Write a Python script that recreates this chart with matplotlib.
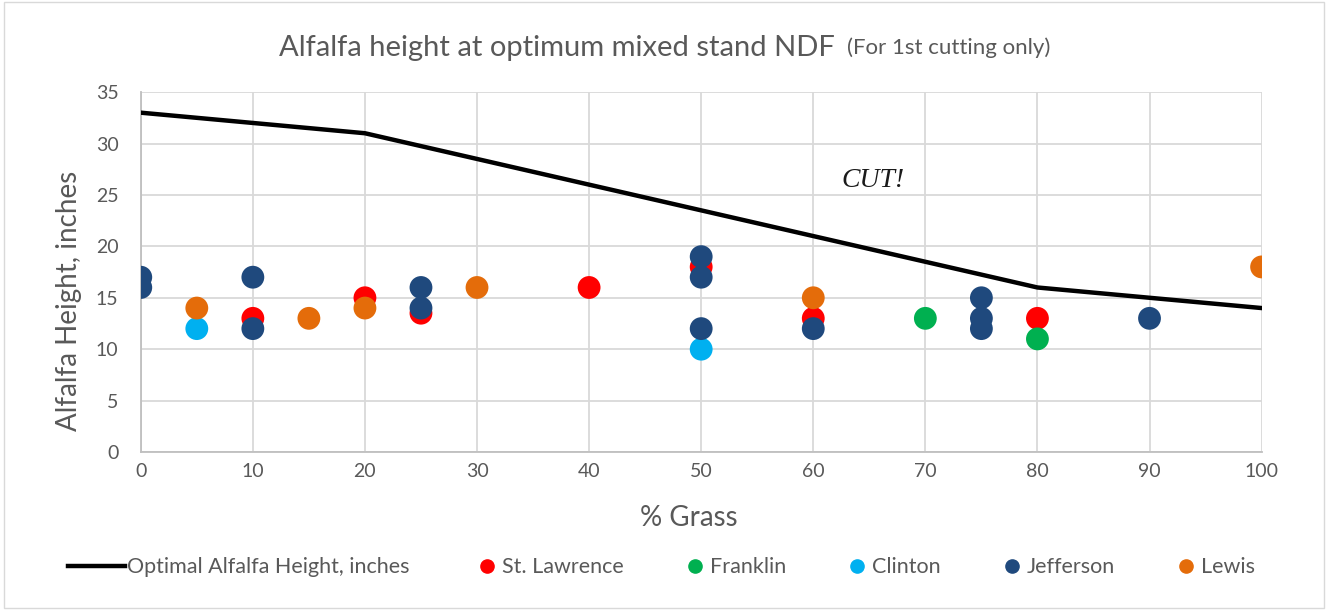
import matplotlib.pyplot as plt
from matplotlib.lines import Line2D
from matplotlib.patches import Rectangle

# optimal height line
line_x = [0, 10, 20, 30, 40, 50, 60, 70, 80, 90, 100]
line_y = [33, 32, 31, 28.5, 26, 23.5, 21, 18.5, 16, 15, 14]

# county points (% grass, height)
stlaw_x = [10, 20, 25, 40, 50, 60, 80]
stlaw_y = [13, 15, 13.5, 16, 18, 13, 13]
franklin_x = [70, 80]
franklin_y = [13, 11]
clinton_x = [5, 50]
clinton_y = [12, 10]
jeff_x = [0, 0, 10, 10, 25, 25, 50, 50, 50, 60, 75, 75, 75, 90]
jeff_y = [17, 16, 17, 12, 16, 14, 19, 17, 12, 12, 15, 13, 12, 13]
lewis_x = [5, 15, 20, 30, 60, 100]
lewis_y = [14, 13, 14, 16, 15, 18]

series = [
    ("St. Lawrence", stlaw_x, stlaw_y, "#ff0000"),
    ("Franklin", franklin_x, franklin_y, "#00b050"),
    ("Clinton", clinton_x, clinton_y, "#00b0f0"),
    ("Jefferson", jeff_x, jeff_y, "#1f497d"),
    ("Lewis", lewis_x, lewis_y, "#e46c0a"),
]

plt.rcParams['font.family'] = ['Lato', 'DejaVu Sans']
gray = "#595959"

fig = plt.figure(figsize=(13.28, 6.10), dpi=100)
ax = fig.add_axes([0.106, 0.259, 0.844, 0.590])

ax.plot(line_x, line_y, color="black", lw=3.2, zorder=3)
for i, (name, xs, ys, col) in enumerate(series):
    ax.scatter(xs, ys, s=270, color=col, edgecolors="none", zorder=4 + i)

ax.set_xlim(0, 100)
ax.set_ylim(0, 35)
ax.set_xticks(range(0, 101, 10))
ax.set_yticks(range(0, 36, 5))
ax.grid(True, color="#d9d9d9", lw=1.3)
ax.set_axisbelow(True)
for s in ["top", "right"]:
    ax.spines[s].set_visible(False)
for s in ["left", "bottom"]:
    ax.spines[s].set_color("#bfbfbf")
    ax.spines[s].set_linewidth(1.3)
ax.tick_params(length=0, labelsize=14, colors=gray)
ax.tick_params(axis="y", pad=16)
ax.tick_params(axis="x", pad=8)

ax.set_xlabel("% Grass", fontsize=20, color=gray)
ax.xaxis.set_label_coords(0.489, -0.148)
ax.set_ylabel("Alfalfa Height, inches", fontsize=20, color=gray)
ax.yaxis.set_label_coords(-0.052, 0.42)

fig.text(0.629, 0.921, "Alfalfa height at optimum mixed stand NDF", fontsize=21,
         color=gray, ha="right", va="center")
fig.text(0.638, 0.921, "(For 1st cutting only)", fontsize=16, color=gray,
         ha="left", va="center")

ax.text(65.3, 26.4, "CUT!", fontsize=20, style="italic",
        family="Liberation Serif", ha="center", va="center", color="#1a1a1a")

# legend: line entry on its own, then the county markers
line_handle = [Line2D([0], [0], color="black", lw=3.2)]
fig.legend(line_handle, ["Optimal Alfalfa Height, inches"], loc="center left",
           bbox_to_anchor=(0.0512, 0.070), frameon=False, fontsize=15.5,
           labelcolor=gray, handlelength=2.65, handletextpad=0.1,
           borderpad=0, borderaxespad=0)
dot_handles = [Line2D([0], [0], marker="o", ls="none", color=c, markersize=9.5)
               for _, _, _, c in series]
fig.legend(dot_handles, [s[0] for s in series], loc="center left",
           bbox_to_anchor=(0.360, 0.070), ncol=5, frameon=False, fontsize=15.5,
           labelcolor=gray, handlelength=0.8, handletextpad=0.3,
           columnspacing=2.9, borderpad=0, borderaxespad=0)

fig.patches.append(Rectangle((0.003, 0.003), 0.994, 0.994, transform=fig.transFigure,
                             fill=False, edgecolor="#d9d9d9", lw=1))

fig.savefig("out.png", dpi=100)
